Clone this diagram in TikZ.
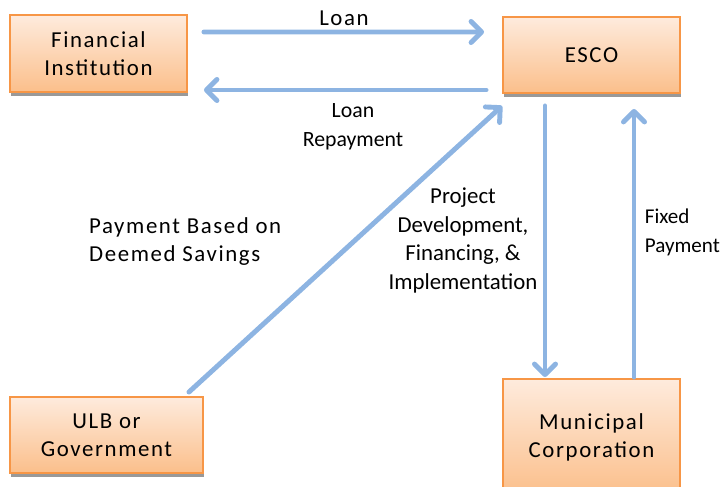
\documentclass[tikz,border=0pt]{standalone}
\usepackage{fontspec}
\setmainfont{Carlito}
\newfontfamily\widefont[LetterSpace=7]{Carlito}
\usetikzlibrary{arrows.meta,calc,shadows}

\definecolor{boxline}{HTML}{F79646}
\definecolor{boxtop}{HTML}{FEEBDD}
\definecolor{boxbot}{HTML}{FBBF8B}
\definecolor{flowblue}{HTML}{8DB4E2}

\begin{document}
\begin{tikzpicture}[x=0.02cm,y=0.02cm,
  party/.style={draw=boxline, line width=1.1pt, top color=boxtop, bottom color=boxbot,
    align=center, font=\widefont\fontsize{13}{16}\selectfont, minimum width=3.54cm,
    drop shadow={shadow xshift=0.4pt, shadow yshift=-2.2pt, fill=black!40, opacity=1}},
  flow/.style={draw=flowblue, line width=2.8pt, line cap=round,
    -{Straight Barb[length=6pt, width=12pt, round]}},
  tag/.style={font=\widefont\fontsize{13}{16}\selectfont},
  smalltag/.style={font=\fontsize{#1}{16.4}\selectfont}]

\useasboundingbox (0,0) rectangle (722,486);

% the four parties
\node[party, minimum height=1.54cm] (fin) at (98.5,432.5) {Financial\\Institution};
\node[party, minimum height=1.52cm] (esco) at (591.5,431) {ESCO};
\node[party, minimum width=3.86cm, minimum height=1.52cm] (ulb) at (106.5,51) {ULB or\\Government};
\node[party, minimum height=2.32cm] (muni) at (591.5,49) {Municipal\\Corporation};

% money and services
\draw[flow] ($(fin.east)+(16,21.5)$) -- node[tag, above=-1pt] (loan) {Loan} ($(esco.west)+(-18,23)$);
\draw[flow] ($(esco.west)+(-16,-35)$) -- ($(fin.east)+(16,-36.5)$);
\draw[flow] ($(ulb.north east)+(-15,4)$) -- ($(esco.south west)+(0,-12)$);
\draw[flow] ($(esco.south)+(-46.5,-12)$) -- ($(muni.north)+(-46.5,1)$);
\draw[flow] ($(muni.north)+(42.5,1)$) -- ($(esco.south)+(42.5,-15)$);

\node[smalltag=12.4, align=center] (repay) at (353,359.5) {Loan\\Repayment};
\node[tag, align=left, anchor=west] (deemed) at (83,244.5) {Payment Based on\\Deemed Savings};
\node[smalltag=13, align=center] (project) at (463,245.5) {Project\\Development,\\Financing, \&\\Implementation};
\node[smalltag=12, align=left, anchor=west, inner xsep=2pt] (fixed) at (641,254) {Fixed\\Payment};

\end{tikzpicture}
\end{document}
